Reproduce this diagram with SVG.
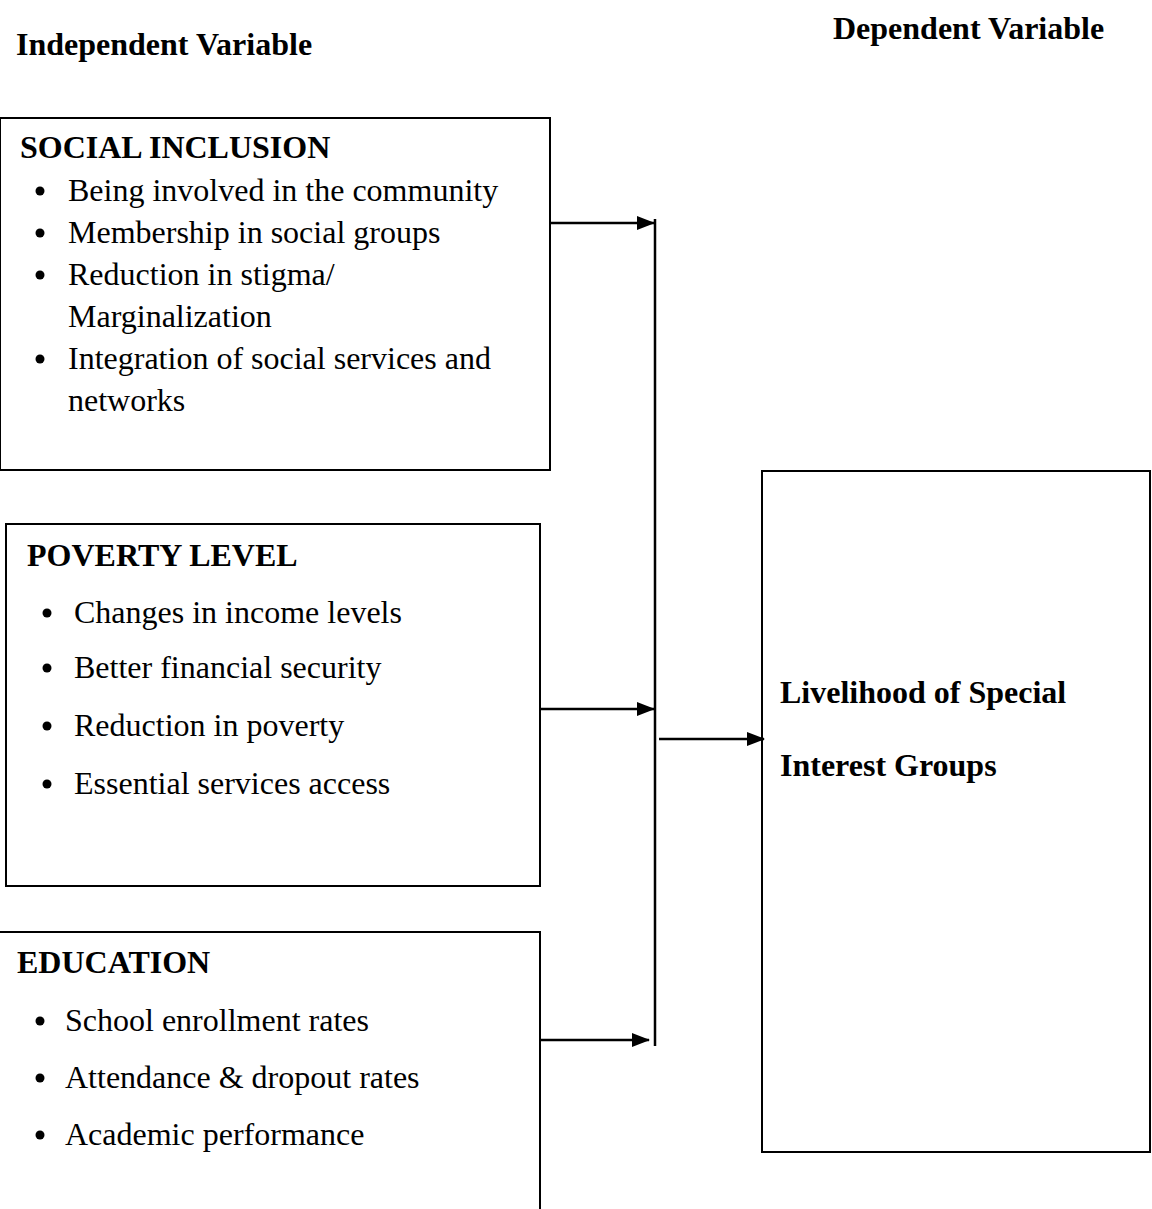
<svg xmlns="http://www.w3.org/2000/svg" width="1152" height="1209" viewBox="0 0 1152 1209">
<style>
text{font-family:"Liberation Serif","Times New Roman",serif;fill:#000;font-size:32px}
.b{font-weight:bold}
.box{fill:none;stroke:#000;stroke-width:2}
.ln{stroke:#000;stroke-width:2.5;fill:none}
.dot{fill:#000}
</style>
<defs>
<marker id="ah" markerWidth="18" markerHeight="14" refX="17" refY="7" orient="auto" markerUnits="userSpaceOnUse">
<path d="M0,0 L18,7 L0,14 Z" fill="#000"/>
</marker>
</defs>
<rect width="1152" height="1209" fill="#fff"/>
<text class="b" x="16" y="55">Independent Variable</text>
<text class="b" x="833" y="39">Dependent Variable</text>

<g id="social-inclusion">
<rect class="box" x="0" y="118" width="550" height="352"/>
<text class="b" x="20" y="158">SOCIAL INCLUSION</text>
<circle class="dot" cx="40" cy="191" r="4.5"/><text x="68" y="201">Being involved in the community</text>
<circle class="dot" cx="40" cy="233" r="4.5"/><text x="68" y="243">Membership in social groups</text>
<circle class="dot" cx="40" cy="275" r="4.5"/><text x="68" y="285">Reduction in stigma/</text>
<text x="68" y="327">Marginalization</text>
<circle class="dot" cx="40" cy="359" r="4.5"/><text x="68" y="369">Integration of social services and</text>
<text x="68" y="411">networks</text>
</g>

<g id="poverty-level">
<rect class="box" x="6" y="524" width="534" height="362"/>
<text class="b" x="27" y="566">POVERTY LEVEL</text>
<circle class="dot" cx="47" cy="613" r="4.5"/><text x="74" y="623">Changes in income levels</text>
<circle class="dot" cx="47" cy="668" r="4.5"/><text x="74" y="678">Better financial security</text>
<circle class="dot" cx="47" cy="726" r="4.5"/><text x="74" y="736">Reduction in poverty</text>
<circle class="dot" cx="47" cy="784" r="4.5"/><text x="74" y="794">Essential services access</text>
</g>

<g id="education">
<path class="box" d="M0,932 H540 V1209"/>
<text class="b" x="17" y="973">EDUCATION</text>
<circle class="dot" cx="40" cy="1021" r="4.5"/><text x="65" y="1031">School enrollment rates</text>
<circle class="dot" cx="40" cy="1078" r="4.5"/><text x="65" y="1088">Attendance &amp; dropout rates</text>
<circle class="dot" cx="40" cy="1135" r="4.5"/><text x="65" y="1145">Academic performance</text>
</g>

<g id="livelihood">
<rect class="box" x="762" y="471" width="388" height="681"/>
<text class="b" x="780" y="703">Livelihood of Special</text>
<text class="b" x="780" y="776">Interest Groups</text>
</g>

<g id="connectors">
<line class="ln" x1="655" y1="219" x2="655" y2="1046"/>
<line class="ln" x1="550" y1="223" x2="654" y2="223" marker-end="url(#ah)"/>
<line class="ln" x1="540" y1="709" x2="654" y2="709" marker-end="url(#ah)"/>
<line class="ln" x1="540" y1="1040" x2="649" y2="1040" marker-end="url(#ah)"/>
<line class="ln" x1="659" y1="739" x2="764" y2="739" marker-end="url(#ah)"/>
</g>
</svg>
